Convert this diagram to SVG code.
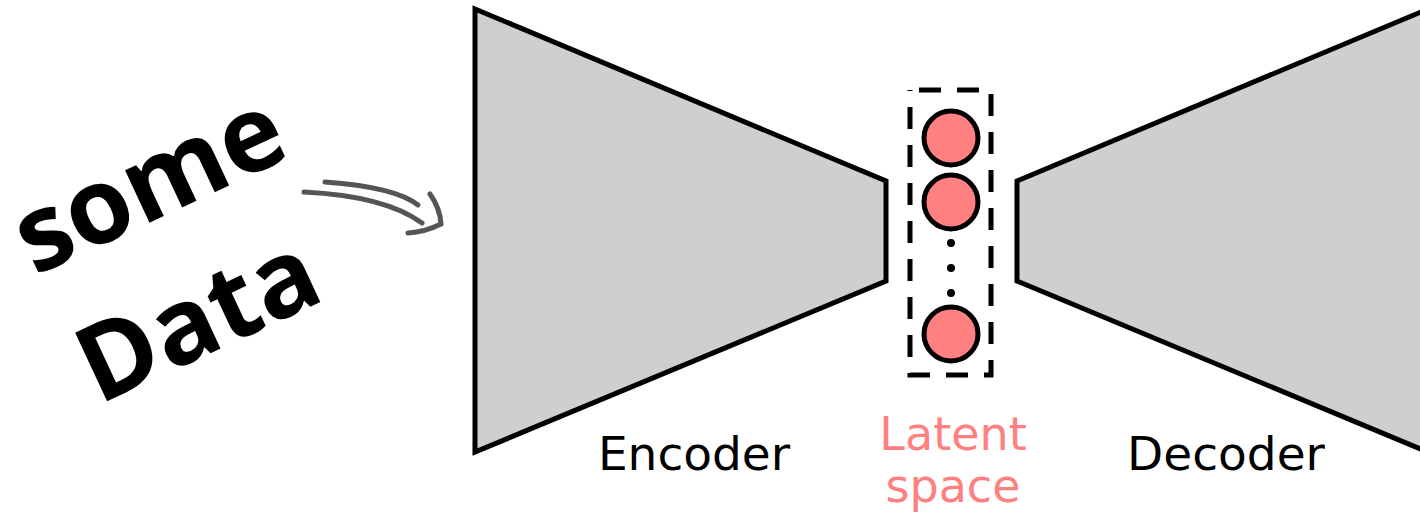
<svg xmlns="http://www.w3.org/2000/svg" width="1420" height="517" viewBox="0 0 1420 517">
  <style>
    .block { fill: #d0cece; stroke: #000; stroke-width: 5; stroke-linejoin: miter; }
    .unit { fill: #ff8080; stroke: #000; stroke-width: 5; }
    .dot { fill: #000; }
    .label { font-family: "DejaVu Sans", sans-serif; font-size: 47px; fill: #000; text-anchor: middle; }
    .latent-label { font-family: "DejaVu Sans", sans-serif; font-size: 46px; fill: #ff8080; text-anchor: middle; }
    .input-label { font-family: "Open Sans", "Noto Sans", sans-serif; font-weight: bold; font-size: 106px; fill: #000; text-anchor: middle; }
    .flow { fill: none; stroke: #555; stroke-width: 5; stroke-linecap: round; }
  </style>

  <!-- input text -->
  <g id="input-data">
    <text class="input-label" transform="translate(164,216) rotate(-25)">some</text>
    <text class="input-label" transform="translate(213,352) rotate(-25)">Data</text>
  </g>

  <!-- encoder funnel -->
  <g id="encoder">
    <polygon class="block" points="475,9 886,181 886,281 475,452"/>
    <text class="label" x="694" y="470">Encoder</text>
  </g>

  <!-- latent bottleneck -->
  <g id="latent">
    <rect x="910" y="90" width="81" height="285" fill="none" stroke="#000" stroke-width="5" stroke-dasharray="22 16" stroke-dashoffset="29"/>
    <circle class="unit" cx="951" cy="138" r="27"/>
    <circle class="unit" cx="951" cy="202" r="27"/>
    <circle class="dot" cx="951" cy="243" r="4"/>
    <circle class="dot" cx="951" cy="268" r="4"/>
    <circle class="dot" cx="951" cy="293" r="4"/>
    <circle class="unit" cx="951" cy="334" r="27"/>
    <text class="latent-label" x="953" y="450">Latent</text>
    <text class="latent-label" x="953" y="502">space</text>
  </g>

  <!-- decoder funnel -->
  <g id="decoder">
    <polygon class="block" points="1017,181 1428,9 1428,452 1017,281"/>
    <text class="label" x="1226" y="470">Decoder</text>
  </g>

  <!-- input arrow -->
  <g id="connectors">
    <path class="flow" d="M304,192 Q385,196 422,223"/>
    <path class="flow" d="M325,182 Q395,187 418,205"/>
    <path class="flow" d="M430,194 Q440,208 441,224 Q425,232 408,233"/>
  </g>
</svg>
